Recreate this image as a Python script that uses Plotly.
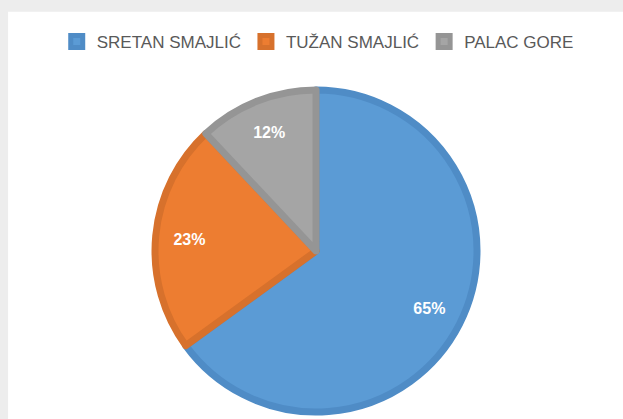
import plotly.graph_objects as go

# podaci
kategorije = ['SRETAN SMAJLIĆ', 'TUŽAN SMAJLIĆ', 'PALAC GORE']
vrijednosti = [65, 23, 12]
boje = ['#5B9BD5', '#ED7D31', '#A5A5A5']
boje_ruba = ['#4F8CC6', '#D7712C', '#959595']

domena = dict(x=[0.2488, 0.7657], y=[0.0167, 0.7852])

fig = go.Figure()

# kolac
fig.add_trace(go.Pie(
    labels=kategorije,
    values=vrijednosti,
    sort=False,
    direction='clockwise',
    rotation=0,
    marker=dict(colors=boje, line=dict(color=boje_ruba, width=7)),
    textinfo='none',
    domain=domena,
    hoverinfo='label+percent',
))

# postoci - prozirni prsten da tekst bude blize rubu (kao u Excelu)
fig.add_trace(go.Pie(
    labels=kategorije,
    values=vrijednosti,
    sort=False,
    direction='clockwise',
    rotation=0,
    hole=0.58,
    marker=dict(colors=['rgba(0,0,0,0)'] * 3, line=dict(width=0)),
    texttemplate='<b>%{percent:.0%}</b>',
    textposition='inside',
    insidetextorientation='horizontal',
    textfont=dict(color='white', size=16, family='Liberation Sans'),
    domain=domena,
    showlegend=False,
    hoverinfo='skip',
))

# sivi okvir kao na snimci zaslona
fig.add_shape(type='rect', xref='paper', yref='paper', x0=0, x1=1, y0=0.972, y1=1,
              fillcolor='#EDEDED', line_width=0, layer='below')
fig.add_shape(type='rect', xref='paper', yref='paper', x0=0, x1=0.013, y0=0, y1=1,
              fillcolor='#EDEDED', line_width=0, layer='below')

fig.update_layout(
    width=623, height=419,
    margin=dict(l=0, r=0, t=0, b=0),
    paper_bgcolor='white',
    plot_bgcolor='white',
    font=dict(family='Liberation Sans', color='#595959'),
    legend=dict(
        orientation='h', x=0.51, xanchor='center', y=0.9, yanchor='middle',
        font=dict(size=17, color='#595959'),
        itemwidth=30, traceorder='normal',
    ),
)

fig.write_html('out.html', config={'displayModeBar': False},
               post_script="document.body.style.margin='0';document.body.style.overflow='hidden';")
